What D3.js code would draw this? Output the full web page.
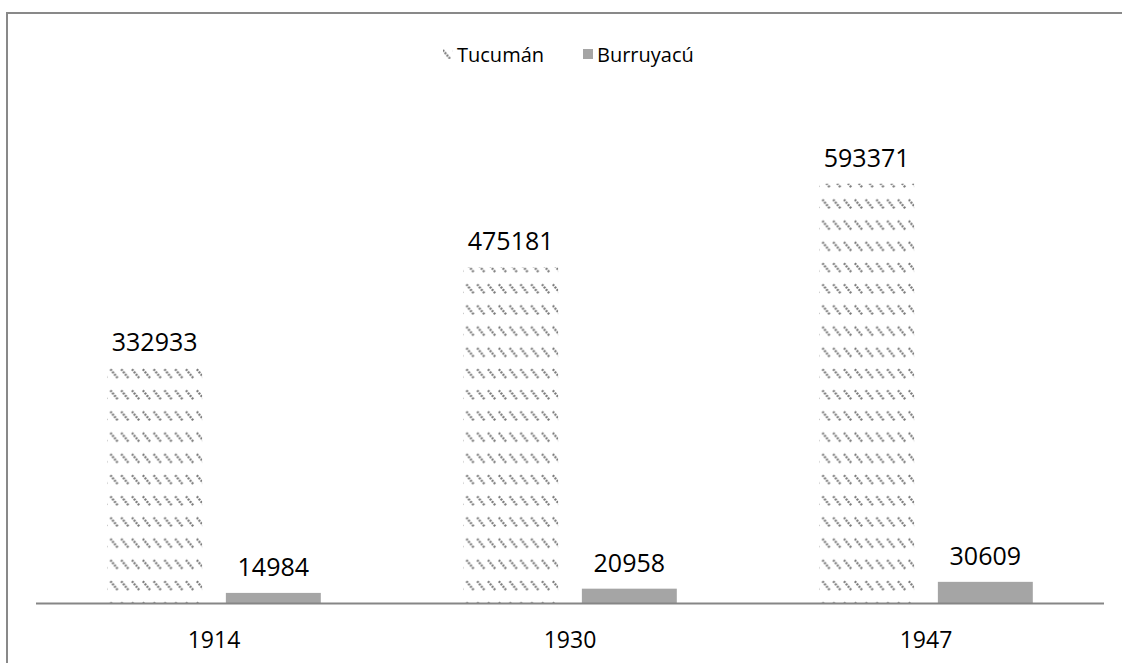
<!DOCTYPE html>
<html>
<head>
<meta charset="utf-8">
<script src="https://cdn.jsdelivr.net/npm/d3@7"></script>
<style>
  html, body { margin: 0; padding: 0; background: #fff; }
  svg { display: block; }
  text { font-family: "Open Sans", Carlito, Calibri, sans-serif; fill: #000; }
</style>
</head>
<body>
<svg id="chart" width="1122" height="663"></svg>
<script>
// Population by census year
const years = ["1914", "1930", "1947"];
const seriesNames = ["Tucumán", "Burruyacú"];
const tucuman = [332933, 475181, 593371];
const burruyacu = [14984, 20958, 30609];

const svg = d3.select("#chart");
const defs = svg.append("defs");

// Hatch fill: short dotted diagonal strokes arranged in rows
function hatch(id, x0, y0) {
  const p = defs.append("pattern")
    .attr("id", id)
    .attr("patternUnits", "userSpaceOnUse")
    .attr("x", x0).attr("y", y0)
    .attr("width", 10.8).attr("height", 21.2);
  p.append("line")
    .attr("x1", 0.8).attr("y1", 6)
    .attr("x2", 8.2).attr("y2", 15)
    .attr("stroke", "#767676")
    .attr("stroke-width", 2.3)
    .attr("stroke-dasharray", "2 1.1");
}
hatch("hatch", 106, 575.2);
hatch("hatchLegend", 442, 44);

const fills = { "Tucumán": "url(#hatch)", "Burruyacú": "#a5a5a5" };

// Outer frame
svg.append("rect")
  .attr("x", 7).attr("y", 13)
  .attr("width", 1300).attr("height", 900)
  .attr("fill", "none")
  .attr("stroke", "#898989")
  .attr("stroke-width", 2);

const baseY = 603.5;
const x0 = d3.scaleBand().domain(years).range([36, 1104]).padding(0);
const x1 = d3.scaleBand().domain(seriesNames)
  .range([x0.bandwidth() * 0.2, x0.bandwidth() * 0.8])
  .paddingInner(0.2).paddingOuter(0);
const y = d3.scaleLinear().domain([0, 600000]).range([baseY, baseY - 424.5]);

const rows = years.map((yr, i) => ({
  year: yr,
  values: [
    { key: "Tucumán", value: tucuman[i] },
    { key: "Burruyacú", value: burruyacu[i] }
  ]
}));

const groups = svg.append("g").selectAll("g")
  .data(rows).join("g")
  .attr("transform", d => `translate(${x0(d.year)},0)`);

groups.selectAll("rect")
  .data(d => d.values).join("rect")
  .attr("x", d => x1(d.key))
  .attr("y", d => y(d.value))
  .attr("width", x1.bandwidth())
  .attr("height", d => y(0) - y(d.value))
  .attr("fill", d => fills[d.key]);

// Value labels above bars
groups.selectAll("text.val")
  .data(d => d.values).join("text")
  .attr("class", "val")
  .attr("x", d => x1(d.key) + x1.bandwidth() / 2)
  .attr("y", d => y(d.value) - 17)
  .attr("text-anchor", "middle")
  .attr("font-size", 25)
  .text(d => d.value);

// Category axis
const xAxis = svg.append("g")
  .attr("transform", `translate(0,${baseY})`)
  .call(d3.axisBottom(x0).tickSize(0).tickPadding(0));
xAxis.select(".domain").attr("stroke", "#868686").attr("stroke-width", 2)
  .attr("d", "M36,0H1104");
xAxis.selectAll(".tick text")
  .attr("font-size", 23)
  .attr("dy", 0)
  .attr("y", 44)
  .style("font-family", "'Open Sans', Carlito, Calibri, sans-serif")
  .attr("fill", "#000");

// Legend
const legend = svg.append("g");
const legendItems = [
  { key: "Tucumán", x: 443, fill: "url(#hatchLegend)" },
  { key: "Burruyacú", x: 583, fill: "#a5a5a5" }
];
legendItems.forEach(it => {
  legend.append("rect")
    .attr("x", it.x).attr("y", 49)
    .attr("width", 10).attr("height", 10)
    .attr("fill", it.fill);
  legend.append("text")
    .attr("x", it.x + 14).attr("y", 62)
    .attr("font-size", 20)
    .text(it.key);
});
</script>
</body>
</html>
